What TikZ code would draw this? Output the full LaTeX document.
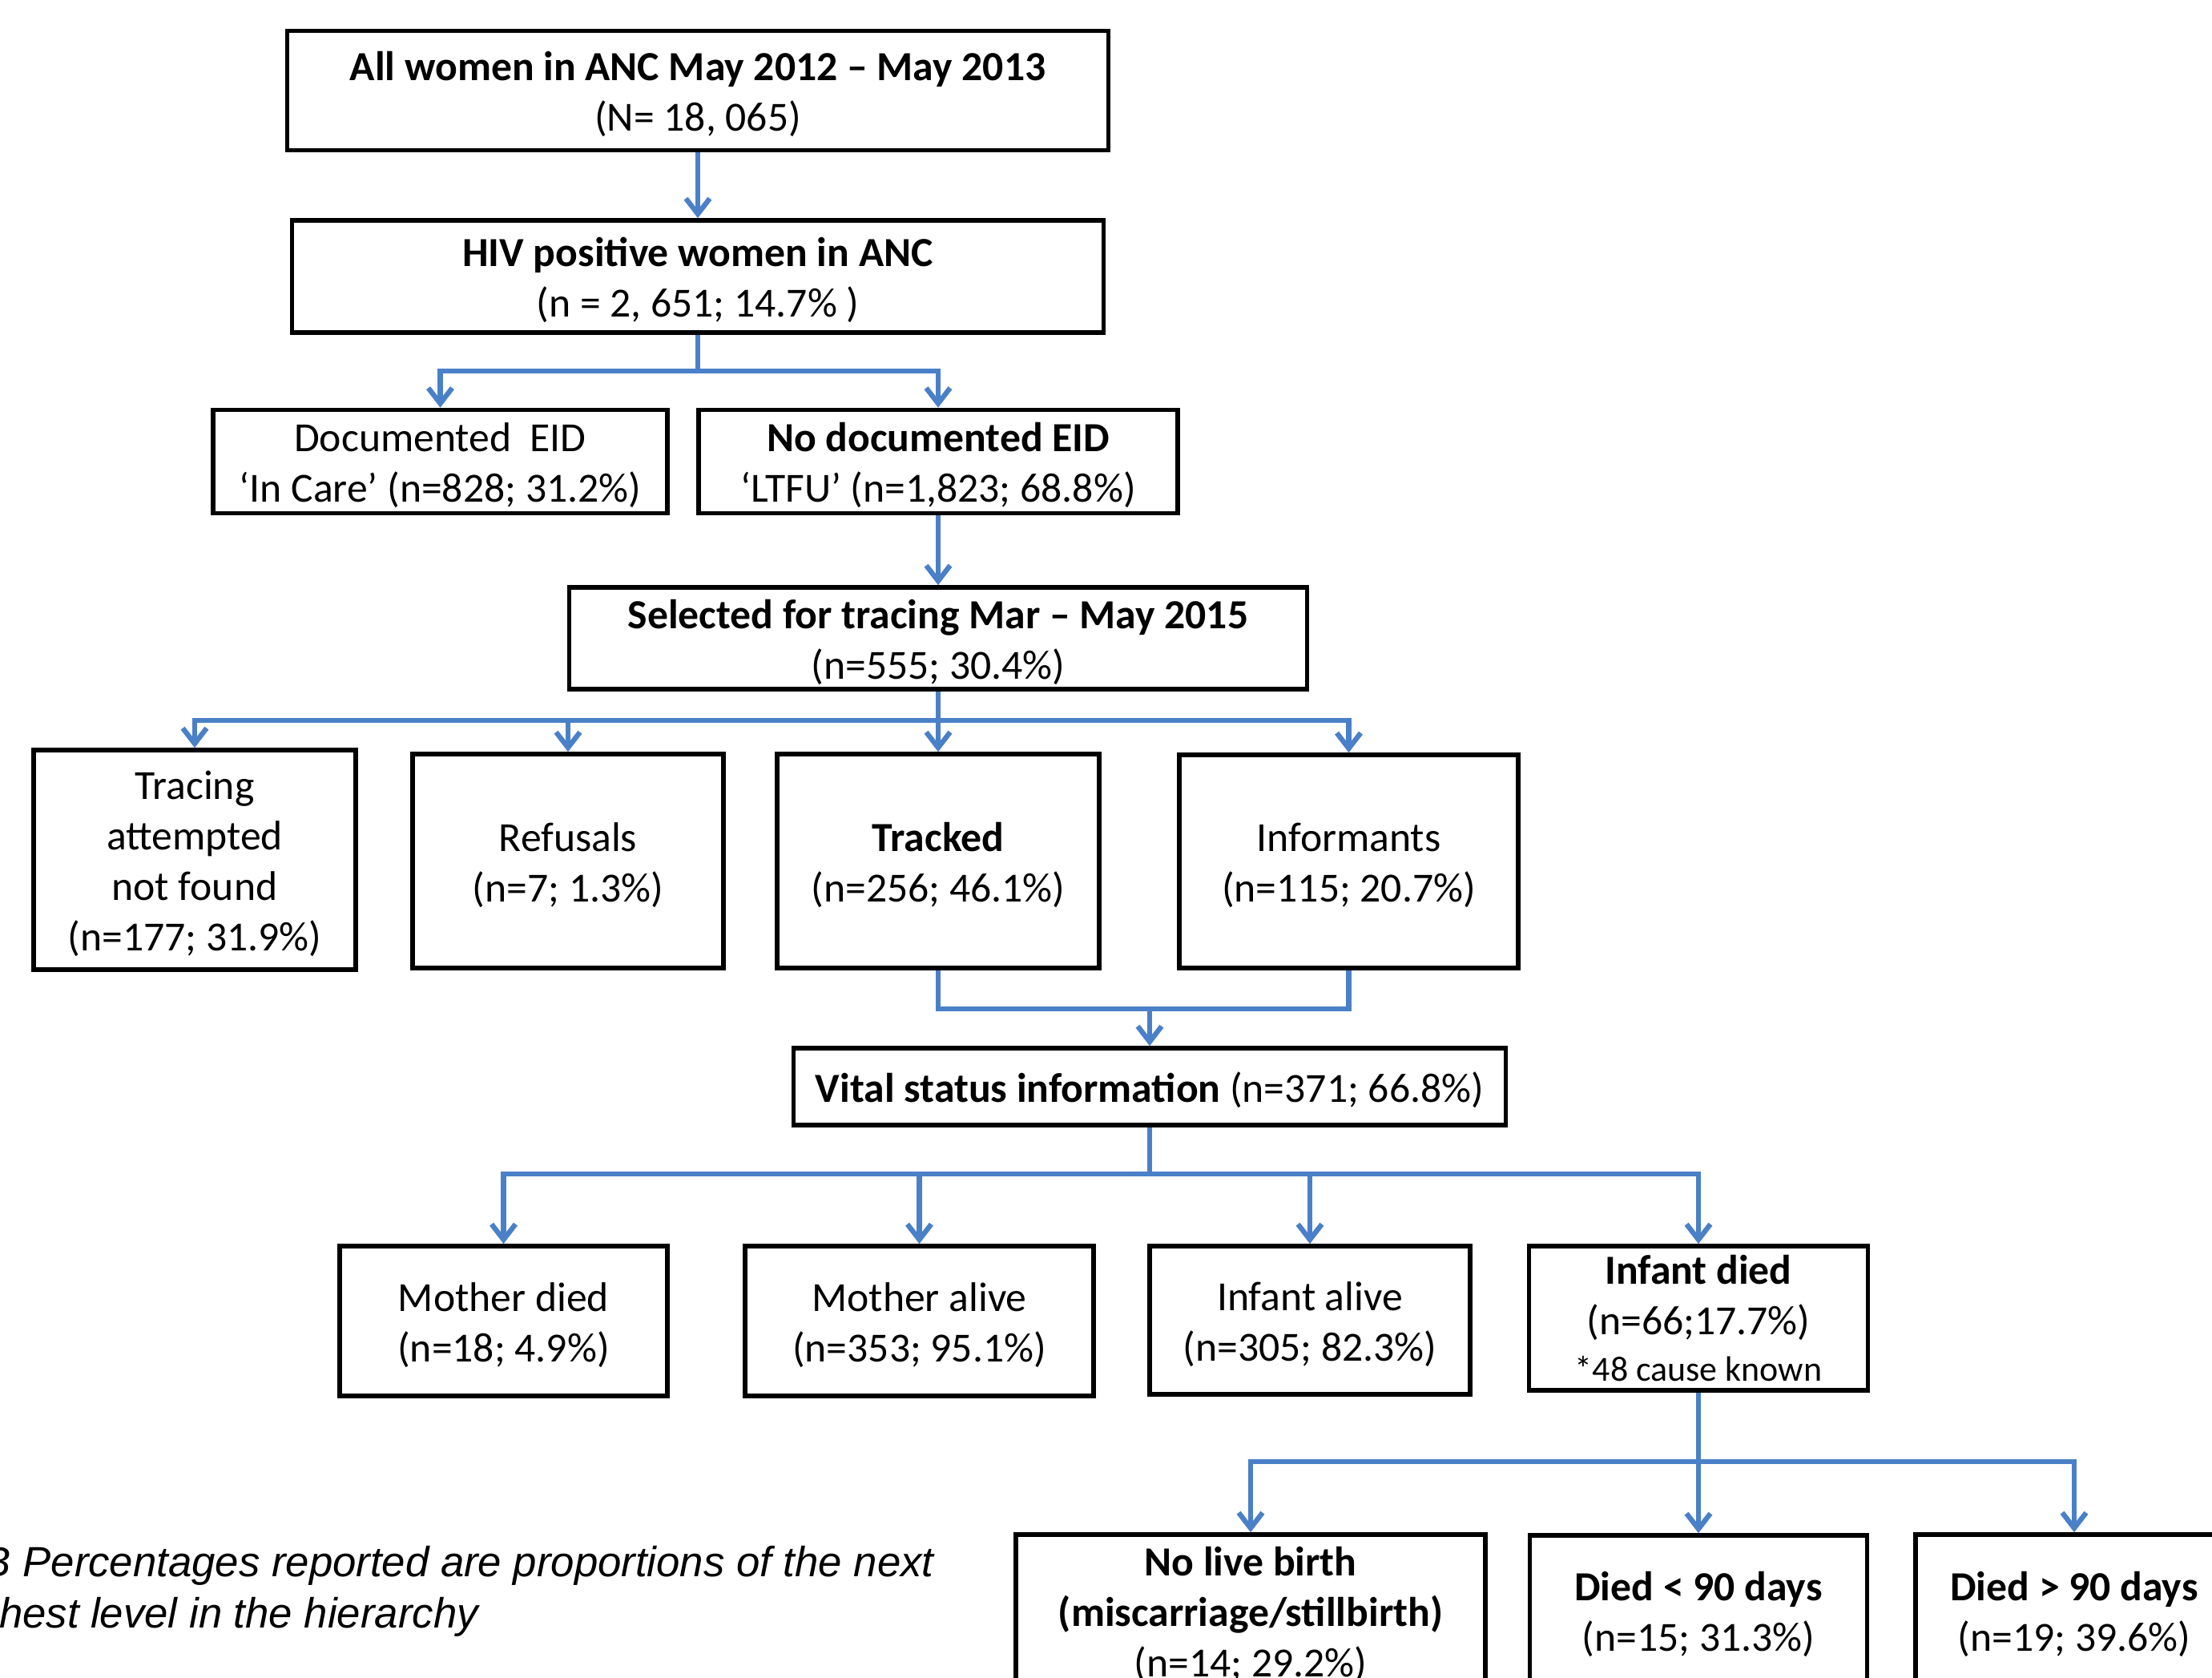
\documentclass[tikz,border=0pt]{standalone}
\usepackage{fontspec}
\setmainfont{Carlito}
\newfontfamily\notefont{Liberation Sans}
\usetikzlibrary{arrows.meta}
\definecolor{linkblue}{RGB}{74,128,200}
\newcommand{\topgap}{\rule{0pt}{13pt}}
\tikzset{
  box/.style={draw, line width=1.6pt, align=center, inner sep=0pt, font=\fontsize{14.7}{17.9}\selectfont},
  link/.style={draw=linkblue, line width=1.8pt},
  arr/.style={link, -{Straight Barb[length=5.5pt,width=8.5pt]}}
}
\begin{document}
\begin{tikzpicture}
\useasboundingbox (0,0) rectangle (27.61,-20.94);
\clip (0,0) rectangle (27.61,-20.94);
\fill [white] (0,0) rectangle (27.61,-20.94);

\node [box, minimum width=10.25cm, minimum height=1.49cm] (allwomen) at (8.71,-1.13) {\topgap\textbf{All women in ANC May 2012 – May 2013}\\(N= 18, 065)};
\node [box, minimum width=10.13cm, minimum height=1.40cm] (hivpos) at (8.71,-3.45) {\topgap\textbf{HIV positive women in ANC}\\(n = 2, 651; 14.7\% )};
\node [box, minimum width=5.67cm, minimum height=1.29cm] (incare) at (5.495,-5.76) {\topgap Documented\ \ EID\\‘In Care’ (n=828; 31.2\%)};
\node [box, minimum width=5.98cm, minimum height=1.29cm] (ltfu) at (11.71,-5.76) {\topgap\textbf{No documented EID}\\‘LTFU’ (n=1,823; 68.8\%)};
\node [box, minimum width=9.21cm, minimum height=1.27cm] (selected) at (11.71,-7.965) {\topgap\textbf{Selected for tracing Mar – May 2015}\\(n=555; 30.4\%)};

\node [box, minimum width=4.02cm, minimum height=2.74cm] (notfound) at (2.43,-10.73) {\topgap Tracing\\attempted\\not found\\(n=177; 31.9\%)};
\node [box, minimum width=3.88cm, minimum height=2.67cm] (refusals) at (7.09,-10.745) {\topgap Refusals\\(n=7; 1.3\%)};
\node [box, minimum width=4.02cm, minimum height=2.67cm] (tracked) at (11.71,-10.745) {\topgap\textbf{Tracked}\\(n=256; 46.1\%)};
\node [box, minimum width=4.23cm, minimum height=2.66cm] (informants) at (16.835,-10.75) {\topgap Informants\\(n=115; 20.7\%)};

\node [box, minimum width=8.89cm, minimum height=0.96cm] (vital) at (14.35,-13.56) {\topgap\textbf{Vital status information} (n=371; 66.8\%)};

\node [box, minimum width=4.09cm, minimum height=1.87cm] (motherdied) at (6.285,-16.485) {\topgap Mother died\\(n=18; 4.9\%)};
\node [box, minimum width=4.35cm, minimum height=1.87cm] (motheralive) at (11.475,-16.485) {\topgap Mother alive\\(n=353; 95.1\%)};
\node [box, minimum width=4.00cm, minimum height=1.85cm] (infantalive) at (16.35,-16.475) {\topgap Infant alive\\(n=305; 82.3\%)};
\node [box, minimum width=4.23cm, minimum height=1.80cm] (infantdied) at (21.2,-16.45) {\textbf{Infant died}\\(n=66;17.7\%)\\[-1.5pt]{\fontsize{12.5}{15}\selectfont *48 cause known}};

\node [box, minimum width=5.86cm, minimum height=1.90cm] (nolive) at (15.61,-20.10) {\topgap\textbf{No live birth}\\\textbf{(miscarriage/stillbirth)}\\(n=14; 29.2\%)};
\node [box, minimum width=4.21cm, minimum height=1.88cm] (before90) at (21.2,-20.10) {\topgap\textbf{Died < 90 days}\\(n=15; 31.3\%)};
\node [box, minimum width=3.96cm, minimum height=1.90cm] (after90) at (25.89,-20.10) {\topgap\textbf{Died > 90 days}\\(n=19; 39.6\%)};

\node [anchor=north west, align=left, inner sep=0pt, font=\notefont\itshape\fontsize{15}{18.2}\selectfont] (note) at (-0.72,-19.29) {\hspace*{0.12cm}NB Percentages reported are proportions of the next\\highest level in the hierarchy};

\coordinate (busC) at (8.71,-4.63);
\coordinate (busE) at (11.71,-8.99);
\coordinate (mergeF) at (14.35,-12.59);
\coordinate (busG) at (14.35,-14.65);
\coordinate (busH) at (21.2,-18.24);

\draw [arr] (allwomen) -- (hivpos);
\draw [arr] (hivpos) -- (busC) -| (incare.north);
\draw [arr] (busC) -| (ltfu.north);
\draw [arr] (ltfu) -- (selected);
\draw [arr] (selected) -- (busE) -| (notfound.north);
\draw [arr] (busE) -| (refusals.north);
\draw [arr] (busE) -- (tracked);
\draw [arr] (busE) -| (informants.north);
\draw [link] (tracked.south) |- (mergeF) -| (informants.south);
\draw [arr] (mergeF) -- (vital);
\draw [arr] (vital) -- (busG) -| (motherdied.north);
\draw [arr] (busG) -| (motheralive.north);
\draw [arr] (busG) -| (infantalive.north);
\draw [arr] (busG) -| (infantdied.north);
\draw [arr] (infantdied) -- (busH) -| (nolive.north);
\draw [arr] (busH) -- (before90);
\draw [arr] (busH) -| (after90.north);
\end{tikzpicture}
\end{document}
